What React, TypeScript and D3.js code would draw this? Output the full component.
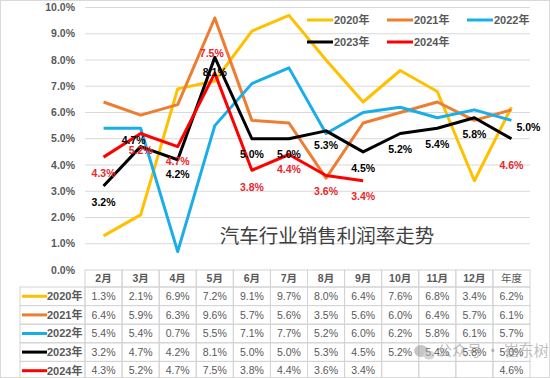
import React from "react";
import * as d3 from "d3";

const categories = ["2月", "3月", "4月", "5月", "6月", "7月", "8月", "9月", "10月", "11月", "12月", "年度"];
const seriesNames = ["2020年", "2021年", "2022年", "2023年", "2024年"];
const s2020 = [1.3, 2.1, 6.9, 7.2, 9.1, 9.7, 8.0, 6.4, 7.6, 6.8, 3.4, 6.2];
const s2021 = [6.4, 5.9, 6.3, 9.6, 5.7, 5.6, 3.5, 5.6, 6.0, 6.4, 5.7, 6.1];
const s2022 = [5.4, 5.4, 0.7, 5.5, 7.1, 7.7, 5.2, 6.0, 6.2, 5.8, 6.1, 5.7];
const s2023 = [3.2, 4.7, 4.2, 8.1, 5.0, 5.0, 5.3, 4.5, 5.2, 5.4, 5.8, 5.0];
const s2024: (number | null)[] = [4.3, 5.2, 4.7, 7.5, 3.8, 4.4, 3.6, 3.4, null, null, null, 4.6];
const yTicks = [0, 1, 2, 3, 4, 5, 6, 7, 8, 9, 10];
const title = "汽车行业销售利润率走势";

const colors = ["#FFC000", "#ED7D31", "#1AAEE8", "#000000", "#FF0000"];
const allSeries = [s2020, s2021, s2022, s2023, s2024];

// label placement offsets (dx, dy from point to label center)
const offs2023: [number, number][] = [[0, 16], [-7, -6], [0, 15], [0, 15], [0, 16], [0, 16], [0, 14], [0, 16], [0, 16], [0, 16], [0, 17], [17, -11]];
const offs2024: [number, number][] = [[0, 16], [0, 17], [0, 15], [-3, -20], [0, 17], [0, 15], [0, 16], [0, 16], [0, 0], [0, 0], [0, 0], [0, 16]];

const W = 550, H = 378;
const plotL = 85, plotR = 530, plotTop = 7.5, plotBottom = 270;
const rowH = 18.6;
const headerH = 17;

export default function App() {
  const x = d3.scaleBand<string>().domain(categories).range([plotL, plotR]);
  const y = d3.scaleLinear().domain([0, 10]).range([plotBottom, plotTop]);
  const cx = (c: string) => (x(c) as number) + x.bandwidth() / 2;

  const lineGen = d3
    .line<number | null>()
    .defined((d, i) => d !== null && !(seriesNamesHasGap(d, i)))
    .x((_, i) => cx(categories[i]))
    .y((d) => y(d as number));

  function seriesNamesHasGap(_d: number | null, _i: number) {
    return false;
  }

  const font = "'Liberation Sans', 'Noto Sans CJK SC', sans-serif";
  const cjk = "'Noto Sans CJK SC', 'Liberation Sans', sans-serif";

  const tableTop = plotBottom;
  const rowsTop = tableTop + headerH;

  return (
    <div style={{ position: "fixed", left: 0, top: 0 }}>
      <svg width={W} height={H} style={{ display: "block", background: "#fff" }}>
        <rect x={0.5} y={0.5} width={W - 1} height={H - 1} fill="#fff" stroke="#d9d9d9" />
        {/* gridlines */}
        {yTicks.map((t) => (
          <g key={t}>
            {t > 0 && (
              <line x1={plotL} x2={plotR} y1={y(t)} y2={y(t)} stroke="#d9d9d9" strokeWidth={1} />
            )}
            <text
              x={75}
              y={y(t)}
              dy="0.35em"
              textAnchor="end"
              fontFamily={font}
              fontSize={10.5}
              fontWeight="bold"
              fill="#595959"
            >
              {t.toFixed(1)}%
            </text>
          </g>
        ))}

        {/* title */}
        <text x={327} y={243} textAnchor="middle" fontFamily={cjk} fontSize={19.5} fill="#404040">
          {title}
        </text>

        {/* lines */}
        {allSeries.map((s, k) => {
          const segData = k === 4 ? s.map((v, i) => (i >= 8 ? null : v)) : s;
          return (
            <path
              key={k}
              d={lineGen(segData as (number | null)[]) || ""}
              fill="none"
              stroke={colors[k]}
              strokeWidth={3}
              strokeLinejoin="round"
            />
          );
        })}

        {/* data labels 2023 */}
        {s2023.map((v, i) => (
          <text
            key={"l23" + i}
            x={cx(categories[i]) + offs2023[i][0]}
            y={y(v) + offs2023[i][1]}
            dy="0.35em"
            textAnchor="middle"
            fontFamily={font}
            fontSize={10.5}
            fontWeight="bold"
            fill="#000"
          >
            {v.toFixed(1)}%
          </text>
        ))}
        {s2024.map((v, i) =>
          v === null ? null : (
            <text
              key={"l24" + i}
              x={cx(categories[i]) + offs2024[i][0]}
              y={y(v) + offs2024[i][1]}
              dy="0.35em"
              textAnchor="middle"
              fontFamily={font}
              fontSize={10.5}
              fontWeight="bold"
              fill="#E8262B"
            >
              {v.toFixed(1)}%
            </text>
          )
        )}

        {/* legend */}
        {seriesNames.map((n, k) => {
          const col = k % 3;
          const row = Math.floor(k / 3);
          const lx = 307 + col * 80;
          const ly = 20 + row * 22;
          return (
            <g key={n}>
              <line x1={lx} x2={lx + 26} y1={ly} y2={ly} stroke={colors[k]} strokeWidth={3} />
              <text x={lx + 27} y={ly} dy="0.36em" fontFamily={font} fontSize={11} fontWeight="bold" fill="#595959">
                {n}
              </text>
            </g>
          );
        })}

        {/* table */}
        <g>
          {/* header row */}
          {categories.map((c) => (
            <g key={"h" + c}>
              <rect x={x(c)} y={tableTop} width={x.bandwidth()} height={headerH} fill="none" stroke="#d4d4d4" />
              <text
                x={cx(c)}
                y={tableTop + headerH / 2}
                dy="0.36em"
                textAnchor="middle"
                fontFamily={font}
                fontSize={10.5}
                fill="#595959"
                fontWeight={c === "年度" ? "normal" : "bold"}
              >
                {c}
              </text>
            </g>
          ))}
          {allSeries.map((s, k) => {
            const ry = rowsTop + k * rowH;
            return (
              <g key={"r" + k}>
                <rect x={20} y={ry} width={plotL - 20} height={rowH} fill="none" stroke="#d4d4d4" />
                <line x1={22} x2={47} y1={ry + rowH / 2} y2={ry + rowH / 2} stroke={colors[k]} strokeWidth={3} />
                <text x={47} y={ry + rowH / 2} dy="0.36em" fontFamily={font} fontSize={11} fontWeight="bold" fill="#595959">
                  {seriesNames[k]}
                </text>
                {categories.map((c, i) => (
                  <g key={c}>
                    <rect x={x(c)} y={ry} width={x.bandwidth()} height={rowH} fill="none" stroke="#d4d4d4" />
                    {s[i] !== null && (
                      <text
                        x={cx(c)}
                        y={ry + rowH / 2}
                        dy="0.36em"
                        textAnchor="middle"
                        fontFamily={font}
                        fontSize={10.5}
                        fill="#595959"
                      >
                        {(s[i] as number).toFixed(1)}%
                      </text>
                    )}
                  </g>
                ))}
              </g>
            );
          })}
        </g>

        {/* watermark */}
        <g opacity={0.55}>
          <ellipse cx={421} cy={351} rx={7} ry={6} fill="#9a9a9a" />
          <ellipse cx={429} cy={355} rx={5.5} ry={4.5} fill="#b5b5b5" />
          <text x={437} y={351} dy="0.36em" fontFamily={cjk} fontSize={15} fill="#8c8c8c">
            公众号 · 崔东树
          </text>
        </g>
      </svg>
    </div>
  );
}
